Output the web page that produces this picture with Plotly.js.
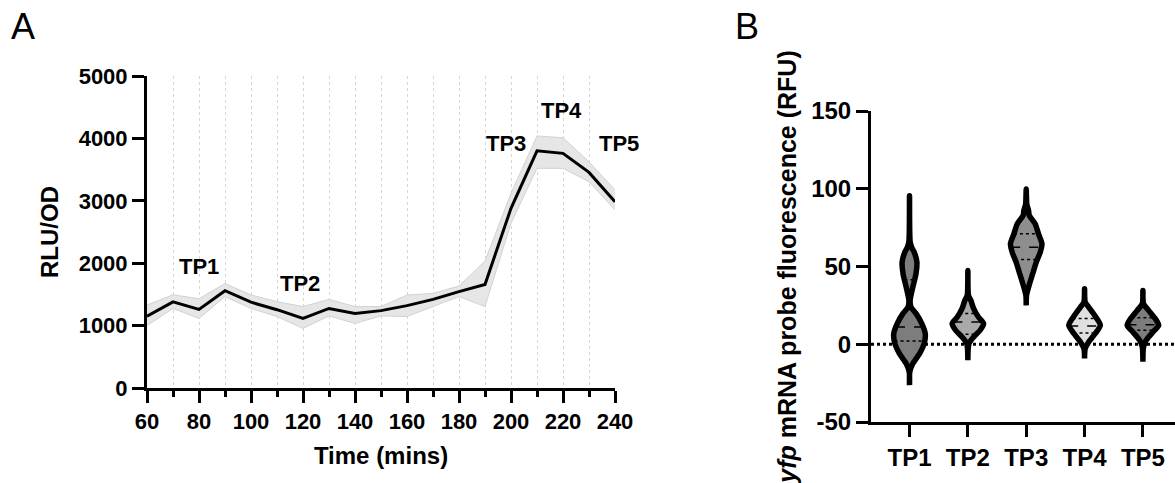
<!DOCTYPE html>
<html><head><meta charset="utf-8">
<script src="https://cdn.plot.ly/plotly-3.0.1.min.js"></script>
<style>html,body{margin:0;padding:0;background:#fff}#chart{width:1175px;height:483px}</style>
</head><body><div id="chart"></div>
<script>
// ---------- Panel A data ----------
const timeMins = [60,70,80,90,100,110,120,130,140,150,160,170,180,190,200,210,220,230,240];
const rluMean  = [1150,1380,1260,1560,1375,1255,1115,1275,1195,1240,1320,1420,1545,1660,2880,3800,3760,3455,2985];
const rluUpper = [1330,1495,1430,1675,1490,1385,1305,1420,1305,1305,1490,1515,1635,2035,3120,4040,4010,3625,3175];
const rluLower = [1000,1275,1115,1465,1275,1145,955,1155,1035,1155,1145,1305,1465,1305,2640,3520,3520,3305,2855];
const tpLabels = ['TP1','TP2','TP3','TP4','TP5'];

// ---------- Panel B data ----------
const violinCats = ['TP1','TP2','TP3','TP4','TP5'];
const yTickVals  = [-50,0,50,100,150];
const yTickText  = ['-50','0','50','100','150'];
const tp1Levels  = [95.5,66,62,59.2,52.8,45.3,36.7,28.2,23.9,19.7,13.3,6.9,0.4,-6,-12.4,-17.7,-26.3];
const tp1Density = [0,0.04,0.15,0.30,0.47,0.41,0.21,0.04,0.09,0.42,0.78,1.0,0.93,0.64,0.21,0.02,0];
const tp2Levels  = [47.4,31.4,28.2,22.9,17.5,13.3,9,4.7,0.4,-10.3];
const tp2Density = [0,0.04,0.19,0.37,0.67,1.0,0.78,0.37,0.07,0];
const tp3Levels  = [99.8,90,86,83,77.4,71,64.6,59.2,52.8,45.3,36.7,31.4,25];
const tp3Density = [0,0.04,0.15,0.19,0.57,0.78,1.0,0.89,0.64,0.41,0.15,0.02,0];
const tp4Levels  = [35.7,27.1,23.9,18.6,12.2,6.9,1.5,-2.8,-9.2];
const tp4Density = [0,0.04,0.26,0.64,1.0,0.68,0.26,0.04,0];
const tp5Levels  = [34.6,26,21.8,16.5,12.2,7.9,2.6,-1.7,-11.3];
const tp5Density = [0,0.04,0.36,0.78,1.0,0.64,0.21,0.04,0];
const violinMedian = [11.1,14.3,62.4,11.8,12.6];
const violinQ1     = [2.1,6.4,54.5,7.3,9.0];
const violinQ3     = [41.5,19.7,71.0,16.5,17.1];

// ---------- drawing ----------
const FONT = 'Liberation Sans, Arial, Helvetica, sans-serif';
const violinColors = ['#7d7d7d','#a9a9a9','#8e8e8e','#e0e0e0','#7d7d7d'];
const MAXHALF = 0.27;
const levelsAll = [tp1Levels,tp2Levels,tp3Levels,tp4Levels,tp5Levels];
const densAll = [tp1Density,tp2Density,tp3Density,tp4Density,tp5Density];

const traces = [];
traces.push({x:timeMins, y:rluLower, xaxis:'x', yaxis:'y', mode:'lines', line:{color:'#d2d2d2', width:1}, hoverinfo:'skip'});
traces.push({x:timeMins, y:rluUpper, xaxis:'x', yaxis:'y', mode:'lines', line:{color:'#d2d2d2', width:1}, fill:'tonexty', fillcolor:'#e6e6e6', hoverinfo:'skip'});
traces.push({x:timeMins, y:rluMean, xaxis:'x', yaxis:'y', mode:'lines', line:{color:'#000', width:3}});

function halfAt(lv, dn, v){
  for(let i=0;i<lv.length-1;i++){
    const a=lv[i], b=lv[i+1];
    if(v<=a && v>=b){
      const t=(a-v)/(a-b);
      return (dn[i]+(dn[i+1]-dn[i])*t)*MAXHALF;
    }
  }
  return 0;
}

for(let k=0;k<5;k++){
  const lv=levelsAll[k], dn=densAll[k];
  const xs=[], ys=[];
  for(let i=0;i<lv.length;i++){ xs.push(k+dn[i]*MAXHALF); ys.push(lv[i]); }
  for(let i=lv.length-1;i>=0;i--){ xs.push(k-dn[i]*MAXHALF); ys.push(lv[i]); }
  traces.push({x:xs, y:ys, xaxis:'x2', yaxis:'y2', mode:'lines', fill:'toself', fillcolor:violinColors[k],
    line:{color:'#000', width:5.5, shape:'spline', smoothing:0.7}, hoverinfo:'skip'});
  const stats=[[violinMedian[k],'dash'],[violinQ1[k],'dot'],[violinQ3[k],'dot']];
  stats.forEach(([v,d])=>{
    const h=halfAt(lv,dn,v);
    traces.push({x:[k-h,k+h], y:[v,v], xaxis:'x2', yaxis:'y2', mode:'lines', line:{color:'#000', width:1.5, dash:d}, hoverinfo:'skip'});
  });
}

const tickA = {family:FONT, size:22, color:'#000', weight:'bold'};
const tickB = {family:FONT, size:24, color:'#000', weight:'bold'};
const layout = {
  width:1175, height:483, margin:{l:0,r:0,t:0,b:0},
  paper_bgcolor:'#fff', plot_bgcolor:'rgba(0,0,0,0)', showlegend:false, hovermode:false,
  font:{family:FONT, color:'#000'},
  xaxis:{domain:[147/1175, 615/1175], anchor:'y', range:[60,240], tick0:60, dtick:20,
    ticks:'outside', ticklen:12, tickwidth:3, tickcolor:'#000', showline:true, linewidth:3, linecolor:'#000',
    showgrid:true, gridcolor:'#d6d6d6', griddash:'dot', gridwidth:1, zeroline:false,
    minor:{dtick:10, tick0:60, ticks:'outside', ticklen:6, tickwidth:3, tickcolor:'#000', showgrid:true, gridcolor:'#d6d6d6', griddash:'dot', gridwidth:1},
    tickfont:tickA, title:{text:'Time (mins)', font:{family:FONT, size:24, weight:'bold', color:'#000'}, standoff:14}},
  yaxis:{domain:[95/483, 407/483], anchor:'x', range:[0,5000], dtick:1000, tick0:0,
    ticks:'outside', ticklen:12, tickwidth:3, tickcolor:'#000', showline:true, linewidth:3, linecolor:'#000',
    showgrid:false, zeroline:false, tickfont:tickA,
    title:{text:'RLU/OD', font:{family:FONT, size:24, weight:'bold', color:'#000'}, standoff:14}},
  xaxis2:{domain:[871/1175, 1], anchor:'y2', range:[-0.66,4.55], tickvals:[0,1,2,3,4], ticktext:violinCats,
    ticks:'outside', ticklen:12, tickwidth:3, tickcolor:'#000', showline:true, linewidth:3, linecolor:'#000',
    showgrid:false, zeroline:false, tickfont:tickB},
  yaxis2:{domain:[61/483, 372/483], anchor:'x2', range:[-50,150], tickvals:yTickVals, ticktext:yTickText,
    ticks:'outside', ticklen:12, tickwidth:3, tickcolor:'#000', showline:true, linewidth:3, linecolor:'#000',
    showgrid:false, zeroline:false, tickfont:tickB,
    title:{text:'<i>yfp</i> mRNA probe fluorescence (RFU)', font:{family:FONT, size:25, weight:'bold', color:'#000'}, standoff:8}},
  shapes:[{type:'line', layer:'below', xref:'x2 domain', x0:0, x1:1, yref:'y2', y0:0, y1:0, line:{color:'#000', width:3, dash:'dot'}}],
  annotations:[
    {xref:'paper', yref:'paper', x:23/1175, y:1-27/483, text:'A', showarrow:false, xanchor:'center', yanchor:'middle', font:{family:FONT, size:36, color:'#000'}},
    {xref:'paper', yref:'paper', x:747/1175, y:1-27/483, text:'B', showarrow:false, xanchor:'center', yanchor:'middle', font:{family:FONT, size:36, color:'#000'}},
    {xref:'x', yref:'y', x:80, y:1940, text:tpLabels[0], showarrow:false, font:{family:FONT, size:22, weight:'bold', color:'#000'}},
    {xref:'x', yref:'y', x:119, y:1670, text:tpLabels[1], showarrow:false, font:{family:FONT, size:22, weight:'bold', color:'#000'}},
    {xref:'x', yref:'y', x:198, y:3925, text:tpLabels[2], showarrow:false, font:{family:FONT, size:22, weight:'bold', color:'#000'}},
    {xref:'x', yref:'y', x:219.6, y:4455, text:tpLabels[3], showarrow:false, font:{family:FONT, size:22, weight:'bold', color:'#000'}},
    {xref:'x', yref:'y', x:240, xshift:4, y:3925, text:tpLabels[4], showarrow:false, font:{family:FONT, size:22, weight:'bold', color:'#000'}}
  ]
};
Plotly.newPlot('chart', traces, layout, {staticPlot:true, displayModeBar:false});
</script></body></html>
